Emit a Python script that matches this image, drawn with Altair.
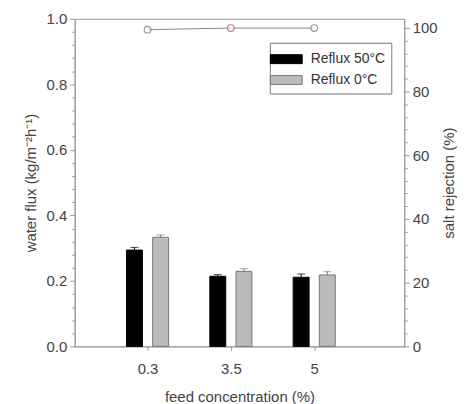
import altair as alt
import pandas as pd

categories = ["0.3", "3.5", "5"]
series_names = ["Reflux 50°C", "Reflux 0°C"]
flux_50 = [0.294, 0.214, 0.211]
flux_50_err = [0.008, 0.005, 0.010]
flux_0 = [0.333, 0.229, 0.218]
flux_0_err = [0.007, 0.008, 0.010]
rejection = [99.4, 99.9, 99.9]
point_colors = ["#777777", "#a05555", "#777777"]

rows = []
for i, c in enumerate(categories):
    rows.append({"idx": i, "cat": c, "series": series_names[0], "flux": flux_50[i], "err": flux_50_err[i]})
    rows.append({"idx": i, "cat": c, "series": series_names[1], "flux": flux_0[i], "err": flux_0_err[i]})
bars_df = pd.DataFrame(rows)
bars_df["top"] = bars_df["flux"] + bars_df["err"]
bars_df["xpos"] = bars_df["idx"] + bars_df["series"].map({series_names[0]: -0.157, series_names[1]: 0.157})

line_df = pd.DataFrame({"idx": list(range(len(categories))), "cat": categories,
                        "rej": rejection, "pc": point_colors})

FONT = "Liberation Sans"
label_expr = "[" + ",".join(f"'{c}'" for c in categories) + "][round(datum.value)]"

xscale = alt.Scale(domain=[-0.814, 3.02], nice=False, zero=False)
xaxis = alt.Axis(values=[0, 1, 2], labelExpr=label_expr, title="feed concentration (%)",
                 grid=False, tickSize=4, labelPadding=11, titlePadding=13,
                 domainColor="#999999", tickColor="#999999")

left_axis = alt.Axis(
    values=[round(v * 0.04, 2) for v in range(26)],
    labelExpr="abs(datum.value*5-round(datum.value*5))<0.001 ? format(datum.value,'.1f') : ''",
    tickSize=alt.ConditionalAxisNumber(
        condition={"test": "abs(datum.value*5-round(datum.value*5))<0.001", "value": 5}, value=3),
    labelOverlap=False,
    title="water flux (kg/m⁻²h⁻¹)", grid=False, labelPadding=3, titlePadding=8,
    domainColor="#999999", tickColor="#999999")

right_axis = alt.Axis(
    orient="right",
    values=[v * 4 for v in range(26)],
    labelExpr="datum.value % 20 == 0 ? format(datum.value,'d') : ''",
    tickSize=alt.ConditionalAxisNumber(
        condition={"test": "datum.value % 20 == 0", "value": 5}, value=3),
    labelOverlap=False,
    title="salt rejection (%)", titleAngle=270, titleBaseline="top",
    grid=False, labelPadding=3, titlePadding=4,
    domainColor="#999999", tickColor="#999999")

color_scale = alt.Scale(domain=series_names, range=["#000000", "#bbbbbb"])
stroke_scale = alt.Scale(domain=series_names, range=["#000000", "#777777"])

base = alt.Chart(bars_df)
yscale = alt.Scale(domain=[0, 1], nice=False)

bars = base.mark_bar(size=16, strokeWidth=1).encode(
    x=alt.X("xpos:Q", scale=xscale, axis=xaxis),
    y=alt.Y("flux:Q", scale=yscale, axis=left_axis),
    fill=alt.Fill("series:N", scale=color_scale, sort=series_names,
                  legend=alt.Legend(title=None, orient="none", legendX=196, legendY=24,
                                    symbolType="M-1.6,-0.45h3.2v0.9h-3.2z", symbolSize=400,
                                    symbolStrokeWidth=1, labelOffset=14,
                                    labelFont=FONT, labelFontSize=14, labelColor="#333333",
                                    strokeColor="#777777", padding=6, rowPadding=3,
                                    fillColor="white")),
    stroke=alt.Stroke("series:N", scale=stroke_scale, legend=None),
)

err_rule = base.mark_rule(strokeWidth=1).encode(
    x="xpos:Q", y=alt.Y("flux:Q", scale=yscale, axis=left_axis), y2="top:Q",
    color=alt.Color("series:N", scale=stroke_scale, legend=None),
)
err_cap = base.mark_tick(orient="horizontal", size=8, thickness=1).encode(
    x="xpos:Q", y=alt.Y("top:Q", scale=yscale, axis=left_axis),
    color=alt.Color("series:N", scale=stroke_scale, legend=None),
)

left_layer = alt.layer(bars, err_rule, err_cap)

rscale = alt.Scale(domain=[0, 102.8], nice=False)
line = alt.Chart(line_df).mark_line(color="#888888", strokeWidth=1).encode(
    x=alt.X("idx:Q", scale=xscale),
    y=alt.Y("rej:Q", scale=rscale, axis=right_axis),
)
pts = alt.Chart(line_df).mark_point(shape="circle", filled=True, fill="white", size=45, strokeWidth=1.2).encode(
    x=alt.X("idx:Q", scale=xscale),
    y=alt.Y("rej:Q", scale=rscale, axis=right_axis),
    stroke=alt.Stroke("pc:N", scale=None),
)
right_layer = alt.layer(line, pts)

chart = alt.layer(left_layer, right_layer).resolve_scale(
    y="independent", fill="independent", stroke="independent", color="independent"
).properties(
    width=331, height=329, background="white",
    padding={"left": 15, "top": 3, "right": 0, "bottom": 0},
).configure_view(
    stroke="#999999", strokeWidth=1
).configure_axis(
    labelFont=FONT, titleFont=FONT, labelFontSize=15, titleFontSize=15,
    labelColor="#444444", titleColor="#444444", titleFontWeight="normal",
)

chart.save("out.html", embed_options={"renderer": "svg", "actions": False})
